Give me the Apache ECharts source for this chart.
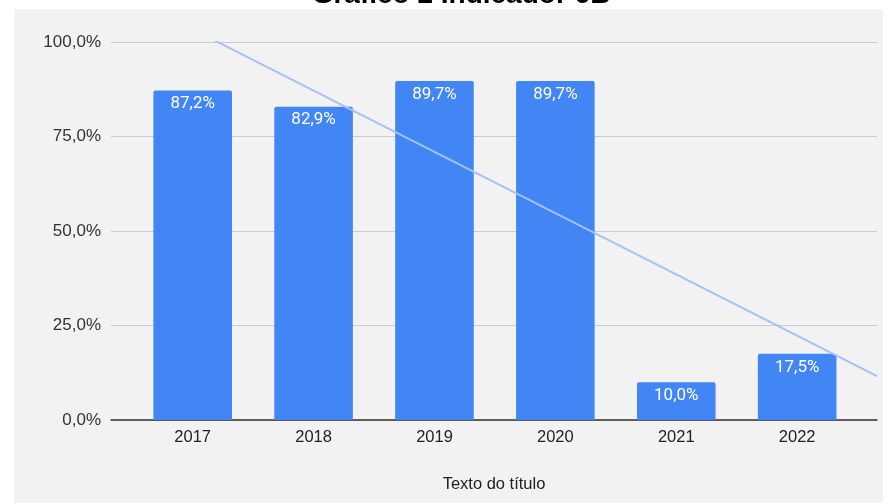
<!DOCTYPE html>
<html>
<head>
<meta charset="utf-8">
<script src="https://cdn.jsdelivr.net/npm/echarts@6/dist/echarts.min.js"></script>
<style>
  html, body { margin: 0; padding: 0; background: #ffffff; }
  #chart { width: 883px; height: 503px; }
</style>
</head>
<body>
<div id="chart"></div>
<script>
// Indicador 6B — percentual anual
const categories = ['2017', '2018', '2019', '2020', '2021', '2022'];
const values = [87.2, 82.9, 89.7, 89.7, 10.0, 17.5];
const yTicks = [0, 25, 50, 75, 100];

const chartTitle = 'Gráfico 2 Indicador 6B';
const xAxisTitle = 'Texto do título';

// Linear trend (least squares over category index)
function linearFit(ys) {
  const n = ys.length;
  let sx = 0, sy = 0, sxx = 0, sxy = 0;
  ys.forEach((y, i) => { sx += i; sy += y; sxx += i * i; sxy += i * y; });
  const slope = (n * sxy - sx * sy) / (n * sxx - sx * sx);
  const intercept = (sy - slope * sx) / n;
  return x => intercept + slope * x;
}
const trend = linearFit(values);

// Plot geometry
const W = 883, H = 503;
const plotTop = 42, plotBottom = 420;
const lineLeft = 111, lineRight = 877;      // gridline span
const catLeft = 132.25, catRight = 857.6;    // category band span
const catW = (catRight - catLeft) / categories.length;
const c0 = catLeft + catW / 2;
const idxMin = (lineLeft - c0) / catW;
const idxMax = (lineRight - c0) / catW;

const fmtPct = v => v.toFixed(1).replace('.', ',') + '%';
const sansFont = '"Liberation Sans", Arial, sans-serif';

const chart = echarts.init(document.getElementById('chart'), null, { renderer: 'canvas' });

chart.setOption({
  backgroundColor: '#ffffff',
  animation: false,
  textStyle: { fontFamily: sansFont },
  graphic: [
    { type: 'rect', z: -10, silent: true,
      shape: { x: 14, y: 9, width: W - 14, height: H - 9 },
      style: { fill: '#f2f2f2' } },
    { type: 'text', z: 10, silent: true,
      x: 461, y: 9,
      style: { text: chartTitle, fill: '#000000', font: 'bold 28px "Liberation Sans", Arial, sans-serif',
               textAlign: 'center', textVerticalAlign: 'bottom' } }
  ],
  grid: [
    { left: lineLeft, right: W - lineRight, top: plotTop, bottom: H - plotBottom, containLabel: false },
    { left: catLeft, right: W - catRight, top: plotTop, bottom: H - plotBottom, containLabel: false }
  ],
  xAxis: [
    { type: 'value', gridIndex: 0, min: idxMin, max: idxMax,
      axisLine: { show: true, lineStyle: { color: '#333333', width: 1.5 } },
      axisTick: { show: false }, axisLabel: { show: false }, splitLine: { show: false },
      name: xAxisTitle, nameLocation: 'middle', nameGap: 56,
      nameTextStyle: { color: '#222222', fontSize: 16.5, fontFamily: sansFont } },
    { type: 'category', gridIndex: 1, data: categories,
      axisLine: { show: false }, axisTick: { show: false },
      axisLabel: { color: '#222222', fontSize: 16.5, margin: 9, fontFamily: sansFont } }
  ],
  yAxis: [
    { type: 'value', gridIndex: 0, min: yTicks[0], max: yTicks[yTicks.length - 1], interval: 25,
      axisLine: { show: false }, axisTick: { show: false },
      axisLabel: { color: '#333333', fontSize: 17, margin: 10, fontFamily: sansFont,
                   formatter: v => fmtPct(v) },
      splitLine: { show: true, lineStyle: { color: '#cccccc', width: 1 } } },
    { type: 'value', gridIndex: 1, min: 0, max: 100, show: false, splitLine: { show: false } }
  ],
  series: [
    { type: 'bar', xAxisIndex: 1, yAxisIndex: 1, data: values, barWidth: '65%', z: 2,
      itemStyle: { color: '#4285f4', borderRadius: [2, 2, 0, 0] },
      label: { show: true, position: 'insideTop', distance: 5, color: '#ffffff', fontSize: 17,
               fontFamily: 'Roboto, Arial, sans-serif', formatter: p => fmtPct(p.value) } },
    { type: 'line', xAxisIndex: 0, yAxisIndex: 0, z: 3, symbol: 'none', clip: true,
      data: [[idxMin, trend(idxMin)], [idxMax, trend(idxMax)]],
      lineStyle: { color: '#a4c2f4', width: 2 } }
  ]
});
</script>
</body>
</html>
